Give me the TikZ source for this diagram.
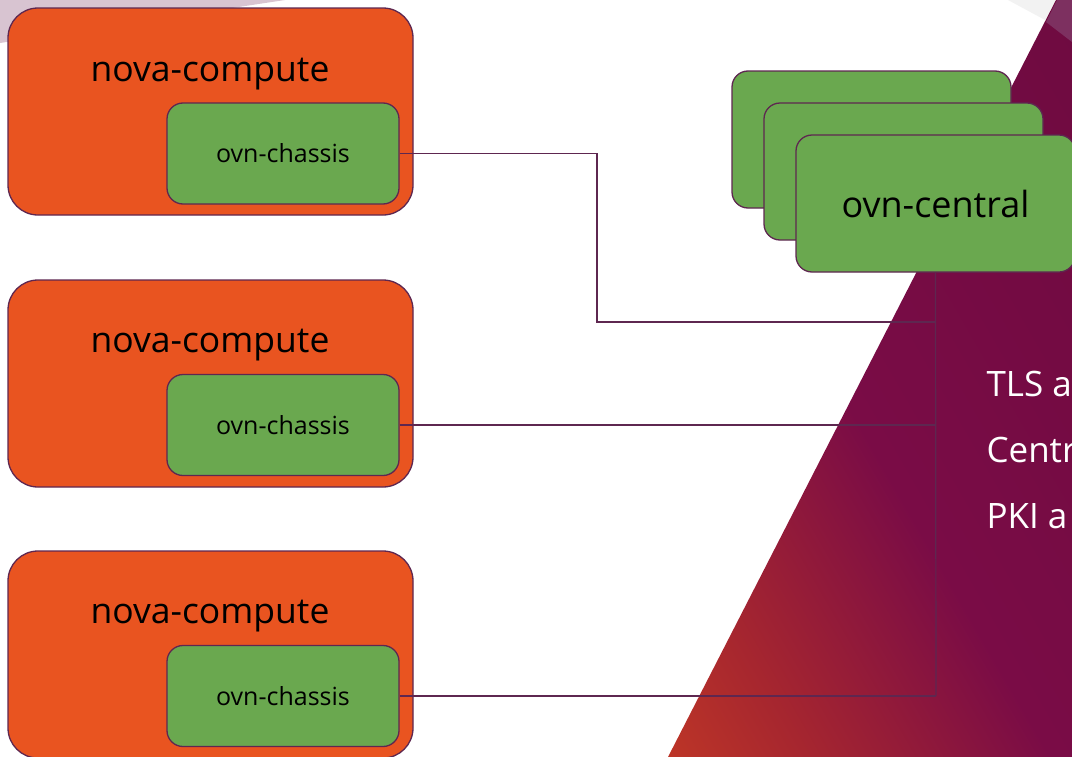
\documentclass[tikz,border=0pt]{standalone}
\usepackage{fontspec}
\setmainfont{Open Sans}
\usepackage{tikz}
\usetikzlibrary{shapes,positioning}

\definecolor{ubOrange}{HTML}{E95420}
\definecolor{ubGreen}{HTML}{6AA84F}
\definecolor{ubLine}{HTML}{5E2750}
\definecolor{ubPurple}{HTML}{6A0A3E}
\definecolor{ubMid}{HTML}{7A0C46}
\definecolor{ubRed}{HTML}{A6262F}
\definecolor{ubRust}{HTML}{DC4A1C}
\definecolor{ubMist}{HTML}{D8C4D1}
\definecolor{ubGrey}{HTML}{F2F2F2}
\definecolor{ubLilac}{HTML}{7D3060}

\pgfdeclarehorizontalshading{ubslope}{100bp}{color(0bp)=(ubRust); color(27bp)=(ubRed); color(47bp)=(ubMid); color(100bp)=(ubPurple)}

\begin{document}
\begin{tikzpicture}[
  compute/.style={draw=ubLine,line width=1.3bp,fill=ubOrange,rounded corners=30bp,minimum width=405bp,minimum height=207bp},
  chassis/.style={draw=ubLine,line width=1.3bp,fill=ubGreen,rounded corners=16bp,minimum width=232bp,minimum height=101bp,font=\fontsize{25bp}{28bp}\selectfont},
  central/.style={draw=ubLine,line width=1.3bp,fill=ubGreen,rounded corners=16bp,minimum width=279bp,minimum height=137bp,font=\fontsize{36bp}{40bp}\selectfont},
  title/.style={font=\fontsize{35.5bp}{40bp}\selectfont},
  note/.style={anchor=west,text=white,font=\fontsize{35bp}{40bp}\selectfont},
  link/.style={draw=ubLine,line width=1.2bp}]
\useasboundingbox (0,0) rectangle (1072bp,-757bp);
\clip (0,0) rectangle (1072bp,-757bp);
% backdrop
\fill[white] (0,0) rectangle (1072bp,-757bp);
\fill[ubMist] (0,0) -- (285bp,0) -- (0,-43bp) -- cycle;
\fill[ubGrey] (1008bp,0) -- (1058bp,0) -- (1047bp,-21bp) -- cycle;
\shade[shading=ubslope,shading angle=30] (1056bp,0) -- (1072bp,0) -- (1072bp,-757bp) -- (668bp,-757bp) -- cycle;
\fill[ubLilac] (1057bp,0) -- (1072bp,0) -- (1072bp,-42bp) -- (1046bp,-22bp) -- cycle;
% compute hosts
\node (C1) at (210.5bp,-111.5bp)[compute] {};
\node (C2) at (210.5bp,-383.5bp)[compute] {};
\node (C3) at (210.5bp,-654.5bp)[compute] {};
\node (T1) at (210bp,-74bp)[title] {nova-compute};
\node (T2) at (210bp,-345bp)[title] {nova-compute};
\node (T3) at (210bp,-616bp)[title] {nova-compute};
\node (H1) at (283bp,-153.5bp)[chassis] {ovn-chassis};
\node (H2) at (283bp,-425bp)[chassis] {ovn-chassis};
\node (H3) at (283bp,-696bp)[chassis] {ovn-chassis};
% central stack
\node (OC3) at (871.5bp,-139.5bp)[central] {};
\node (OC2) at (903.5bp,-171.5bp)[central] {};
\node (OC1) at (935.5bp,-203.5bp)[central] {ovn-central};
% links
\coordinate (B1) at (597bp,-322bp);
\coordinate (B2) at (936bp,-696bp);
\draw[link] (H1.east) -| (B1) -- (B1 -| OC1.south);
\draw[link] (OC1.south) -- (B2);
\draw[link] (H2.east) -- (H2.east -| OC1.south);
\draw[link] (H3.east) -- (B2);
% notes
\node (N1) at (983bp,-384bp)[note] {TLS a};
\node (N2) at (983bp,-450bp)[note] {Centr};
\node (N3) at (983bp,-516bp)[note] {PKI a};
\end{tikzpicture}
\end{document}
